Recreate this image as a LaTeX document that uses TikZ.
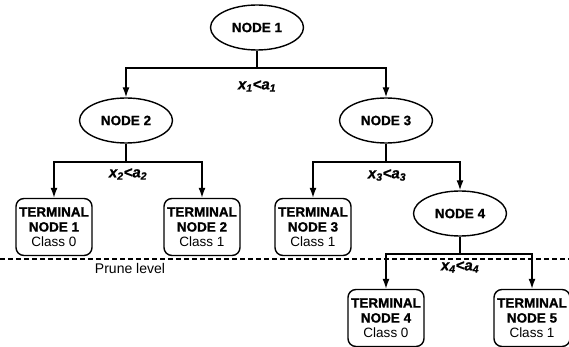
\documentclass[tikz,border=0pt]{standalone}
\usepackage{fontspec}
\setmainfont{Liberation Sans}[BoldFeatures={FakeBold=0.9},BoldItalicFeatures={FakeBold=0.9}]
\usetikzlibrary{shapes.geometric,arrows.meta}
\begin{document}
\begin{tikzpicture}[x=1pt,y=-1pt, line width=1.4pt,
  ell/.style={ellipse, draw, minimum width=93pt, minimum height=45pt, inner sep=0pt,
    font=\fontsize{13.5}{15}\selectfont\bfseries},
  term/.style={rectangle, rounded corners=8pt, draw, minimum width=76pt, minimum height=57pt,
    inner sep=0pt, align=center, font=\fontsize{13.5}{15}\selectfont},
  arr/.style={-{Latex[length=10pt,width=7pt]}},
  lab/.style={font=\fontsize{15}{17}\selectfont\bfseries\itshape, inner sep=0pt},
  plain/.style={font=\fontsize{14}{16}\selectfont, inner sep=0pt}]
\useasboundingbox (0,0) rectangle (569,347);
% nodes
\node[ell] (n1) at (257,27.5) {NODE 1};
\node[ell] (n2) at (126,120.5) {NODE 2};
\node[ell] (n3) at (386,120.5) {NODE 3};
\node[ell] (n4) at (460,213.5) {NODE 4};
\node[term] (t1) at (54,227) {\textbf{TERMINAL}\\\textbf{NODE 1}\\Class 0};
\node[term] (t2) at (202,227) {\textbf{TERMINAL}\\\textbf{NODE 2}\\Class 1};
\node[term] (t3) at (313,227) {\textbf{TERMINAL}\\\textbf{NODE 3}\\Class 1};
\node[term] (t4) at (386,318) {\textbf{TERMINAL}\\\textbf{NODE 4}\\Class 0};
\node[term] (t5) at (532,318) {\textbf{TERMINAL}\\\textbf{NODE 5}\\Class 1};
% junctions
\coordinate (j1) at (257,68);
\coordinate (j2) at (126,162);
\coordinate (j3) at (386,162);
\coordinate (j4) at (460,254);
% connectors
\draw (n1) -- (j1);
\draw[arr] (j1) -| (n2);
\draw[arr] (j1) -| (n3);
\draw (n2) -- (j2);
\draw[arr] (j2) -| (t1);
\draw[arr] (j2) -| (t2);
\draw (n3) -- (j3);
\draw[arr] (j3) -| (t3);
\draw[arr] (j3) -| (n4);
\draw (n4) -- (j4);
\draw[arr] (j4) -| (t4);
\draw[arr] (j4) -| (t5);
% labels
\node[lab] (l1) at (257,86) {x\textsubscript{1}<a\textsubscript{1}};
\node[lab] (l2) at (128,174) {x\textsubscript{2}<a\textsubscript{2}};
\node[lab] (l3) at (387,175) {x\textsubscript{3}<a\textsubscript{3}};
\node[lab] (l4) at (460,267) {x\textsubscript{4}<a\textsubscript{4}};
% prune level
\coordinate (dl) at (0,259);
\coordinate (dr) at (569,259);
\draw[line width=1.1pt, dash pattern=on 5pt off 3pt] (dl) -- (dr);
\node[plain] (pl) at (130,268) {Prune level};
\end{tikzpicture}
\end{document}
